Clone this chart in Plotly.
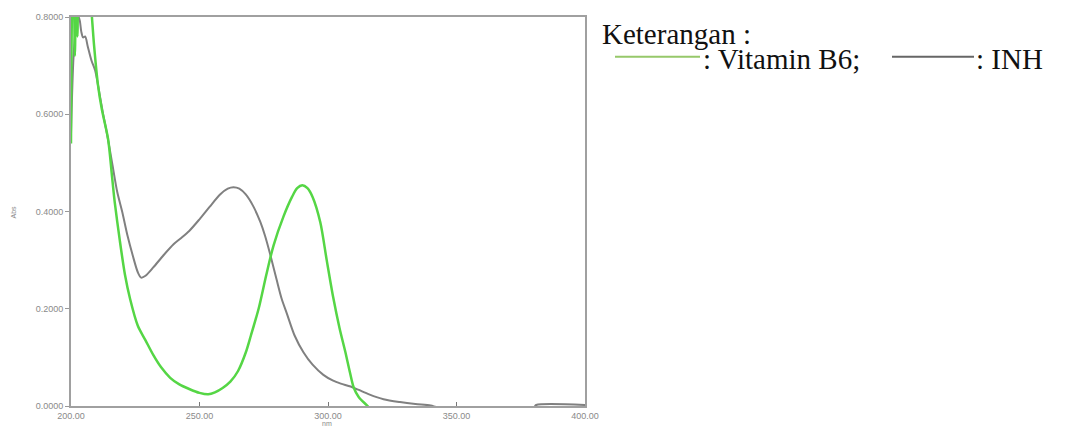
import plotly.graph_objects as go

# ---- data ----
b6_nm = [200, 200.5, 201, 201.5, 202, 202.5, 203, 204, 205, 206, 207, 208, 209,
         210.5, 212, 214.4, 216, 217, 219, 221, 223, 226, 229, 232, 235, 238.6,
         242, 246, 250, 253.4, 256, 259, 262, 265, 268, 270, 273, 276, 278.8,
         282.7, 286, 288, 290, 292, 294, 297, 299.5, 302, 304.5, 306.8, 308.5,
         310, 312, 315.4, 317, 320, 330, 350, 400]
b6_abs = [0.54, 0.85, 0.90, 0.72, 0.88, 0.76, 0.95, 1.00, 1.00, 0.95, 0.88, 0.81, 0.74,
          0.66, 0.61, 0.55, 0.47, 0.42, 0.34, 0.27, 0.22, 0.165, 0.135, 0.105, 0.08, 0.058,
          0.045, 0.035, 0.027, 0.024, 0.028, 0.037, 0.05, 0.072, 0.11, 0.145, 0.20, 0.27, 0.33,
          0.39, 0.43, 0.448, 0.454, 0.448, 0.43, 0.378, 0.30, 0.224, 0.16, 0.11, 0.07,
          0.038, 0.018, 0.0, -0.01, -0.02, -0.03, -0.03, -0.03]

inh_nm = [200, 201, 202, 203, 203.5, 204, 204.7, 205.5, 206.5, 208, 209.4, 211, 212.5,
          214, 216, 218, 219.9, 222, 224, 226, 227.3, 229, 232, 236, 240, 242.5, 246,
          250, 254, 258, 261, 263.2, 265.5, 268, 271, 273.7, 275.5, 277.6, 280, 282,
          284, 287, 290.5, 294, 298.2, 302, 305, 308.8, 312, 316, 321.6, 328, 334,
          340, 343, 380, 381, 400]
inh_abs = [0.56, 0.72, 0.78, 0.80, 0.79, 0.77, 0.758, 0.76, 0.74, 0.71, 0.69, 0.645, 0.60,
           0.56, 0.50, 0.44, 0.40, 0.35, 0.31, 0.275, 0.264, 0.268, 0.285, 0.31, 0.333, 0.344, 0.36,
           0.384, 0.41, 0.435, 0.447, 0.45, 0.447, 0.435, 0.41, 0.378, 0.35, 0.31, 0.26, 0.22,
           0.19, 0.145, 0.11, 0.085, 0.064, 0.052, 0.046, 0.04, 0.033, 0.024, 0.014, 0.008, 0.004,
           0.001, -0.003, -0.003, 0.002, 0.002]

x_ticks = [200, 250, 300, 350, 400]
x_ticktext = ["200.00", "250.00", "300.00", "350.00", "400.00"]
y_ticks = [0.0, 0.2, 0.4, 0.6, 0.8]
y_ticktext = ["0.0000", "0.2000", "0.4000", "0.6000", "0.8000"]

# ---- layout geometry (page px; body margin removed below) ----
W, H = 1065, 433
L, R, T, B = 71, 585, 12, 412  # plot area in page px


def px(xp):
    return (xp - L) / (R - L)


def py(yp):
    return (B - yp) / (B - T)


fig = go.Figure()
fig.add_trace(go.Scatter(x=inh_nm, y=inh_abs, mode="lines", name="INH",
                         line=dict(color="#808080", width=2, shape="spline", smoothing=0.8)))
fig.add_trace(go.Scatter(x=b6_nm, y=b6_abs, mode="lines", name="Vitamin B6",
                         line=dict(color="#55d645", width=2.5, shape="spline", smoothing=0.8)))

tickfont = dict(family="Liberation Sans, Arial, sans-serif", size=9, color="#8a8a8a")
axline = "#a0a0a0"

fig.update_layout(
    width=W, height=H,
    margin=dict(l=L, r=W - R, t=T, b=H - B, pad=0),
    paper_bgcolor="white", plot_bgcolor="white",
    showlegend=False,
    xaxis=dict(range=[200, 400], tickvals=x_ticks, ticktext=x_ticktext,
               ticks="inside", ticklen=4, tickcolor="#777", tickfont=tickfont,
               showgrid=False, zeroline=False, showline=True, linecolor=axline,
               linewidth=2, mirror=True),
    yaxis=dict(range=[0, 0.8], tickvals=y_ticks, ticktext=y_ticktext,
               ticks="outside", ticklen=4, tickcolor="#999", tickfont=tickfont,
               showgrid=False, zeroline=False, showline=True, linecolor=axline,
               linewidth=2, mirror=True),
    yaxis2=dict(range=[0, 0.8], overlaying="y", side="right", matches="y",
                tickvals=y_ticks[1:-1], ticks="inside", ticklen=4, tickcolor="#999",
                showticklabels=False, showgrid=False, zeroline=False, showline=False),
)

serif = "Liberation Serif, Times New Roman, serif"
ann = [
    dict(text="Abs", x=px(13), y=py(213), textangle=-90,
         font=dict(family="Liberation Sans, Arial", size=7, color="#888")),
    dict(text="nm", x=px(327), y=py(430),
         font=dict(family="Liberation Sans, Arial", size=7, color="#888")),
    dict(text="Keterangan :", x=px(600), y=py(29), xanchor="left",
         font=dict(family=serif, size=29, color="#111")),
    dict(text=": Vitamin B6;", x=px(701), y=py(55), xanchor="left",
         font=dict(family=serif, size=29, color="#111")),
    dict(text=": INH", x=px(974), y=py(55), xanchor="left",
         font=dict(family=serif, size=29, color="#111")),
]
for a in ann:
    a.update(xref="paper", yref="paper", showarrow=False)
    a.setdefault("xanchor", "center")
    a.setdefault("yanchor", "middle")
fig.update_layout(annotations=ann)

fig.add_shape(type="line", xref="paper", yref="paper",
              x0=px(615), x1=px(700), y0=py(53), y1=py(53),
              line=dict(color="#96c86a", width=2))
fig.add_shape(type="line", xref="paper", yref="paper",
              x0=px(892), x1=px(974), y0=py(53), y1=py(53),
              line=dict(color="#666666", width=2))

fig.write_html(
    "out.html",
    config={"displayModeBar": False},
    post_script=("document.documentElement.style.margin='0';"
                 "document.body.style.margin='0';"
                 "document.body.style.overflow='hidden';"),
)
